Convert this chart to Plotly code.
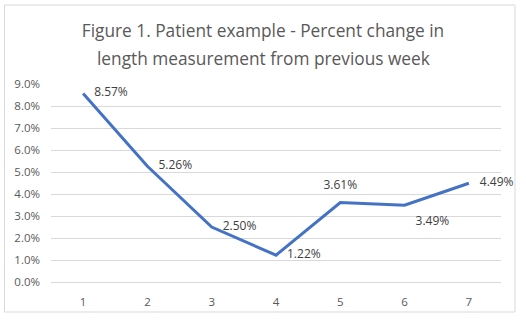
import plotly.graph_objects as go

weeks = ["1", "2", "3", "4", "5", "6", "7"]
pct_change = [0.0857, 0.0526, 0.0250, 0.0122, 0.0361, 0.0349, 0.0449]
label_pos = ["middle right", "middle right", "middle right", "middle right",
             "top center", "bottom right", "middle right"]
y_ticks = [i / 100 for i in range(0, 10)]
title_lines = ["Figure 1. Patient example - Percent change in",
               "length measurement from previous week"]

L, R, T, B = 51, 25, 84, 39
W, H = 526, 321
pw, ph = W - L - R, H - T - B

def px_x(x):
    return (x - L) / pw

def px_y(y):
    return (H - B - y) / ph

fig = go.Figure()
fig.add_trace(go.Scatter(
    x=weeks, y=pct_change, mode="lines+markers+text",
    line=dict(color="#4472C4", width=3),
    marker=dict(size=16, opacity=0, color="#4472C4"),
    text=[f"{v*100:.2f}%" for v in pct_change],
    textposition=label_pos,
    textfont=dict(family="Open Sans", size=12, color="#404040"),
    cliponaxis=False, hoverinfo="skip",
))

title_font = dict(family="Open Sans", size=17.3, color="#595959")
fig.update_layout(
    width=W, height=H,
    margin=dict(l=L, r=R, t=T, b=B),
    paper_bgcolor="white", plot_bgcolor="white",
    showlegend=False,
    title=dict(
        text=title_lines[0],
        x=263 / W, xanchor="center", y=1 - 31 / H, yanchor="middle",
        font=title_font,
    ),
    annotations=[dict(
        text=title_lines[1], xref="paper", yref="paper",
        x=px_x(263), y=px_y(58), xanchor="center", yanchor="middle",
        showarrow=False, font=title_font,
    )],
    xaxis=dict(
        type="category", range=[-0.5, 6.5], showgrid=False,
        showline=True, linecolor="#d9d9d9", linewidth=1,
        ticks="", tickfont=dict(family="Open Sans", size=11.5, color="#595959"),
        ticklabelstandoff=9, fixedrange=True,
    ),
    yaxis=dict(
        range=[0, 0.09], tickvals=y_ticks, tickformat=".1%",
        showgrid=True, gridcolor="#d9d9d9", gridwidth=1, zeroline=False,
        ticks="", tickfont=dict(family="Open Sans", size=11.5, color="#595959"),
        ticklabelstandoff=10, fixedrange=True,
    ),
    shapes=[dict(
        type="rect", xref="paper", yref="paper",
        x0=px_x(4.5), x1=px_x(515), y0=px_y(312), y1=px_y(5),
        line=dict(color="#d9d9d9", width=1), layer="below",
    )],
)

fig.write_html("out.html")
